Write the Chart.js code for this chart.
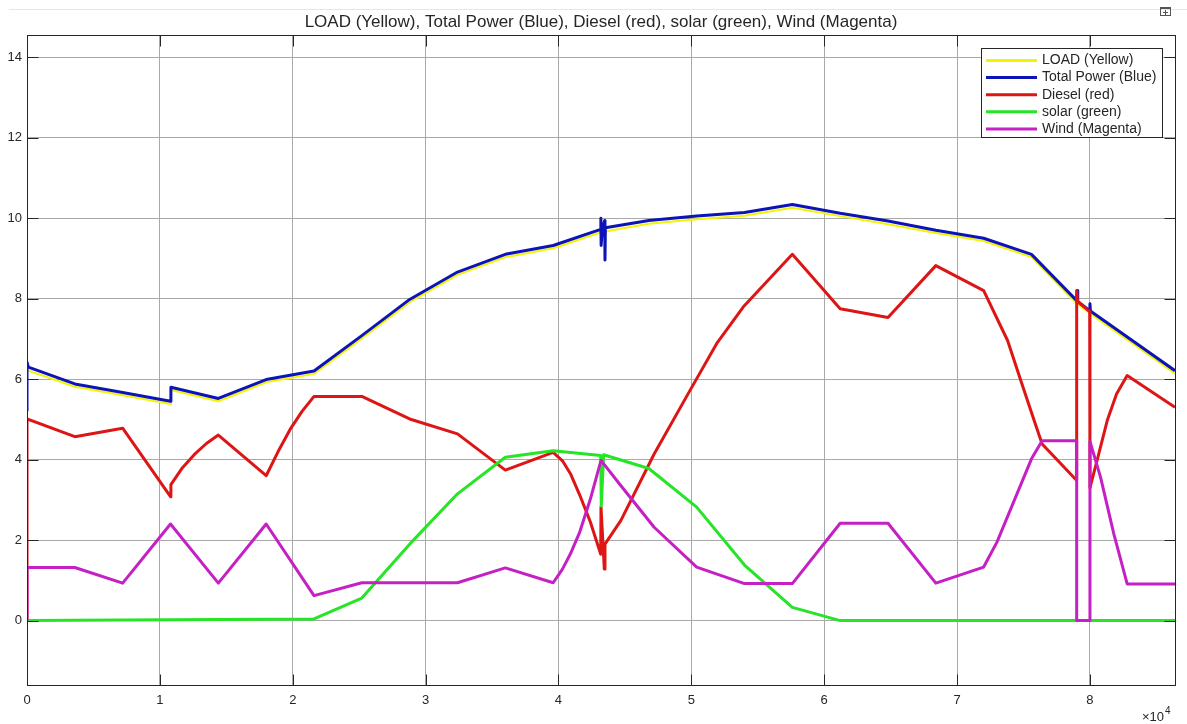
<!DOCTYPE html>
<html>
<head>
<meta charset="utf-8">
<title>Hybrid power system – 24 h simulation</title>
<script src="https://cdn.jsdelivr.net/npm/chart.js@4/dist/chart.umd.min.js"></script>
<style>
  html, body { margin: 0; padding: 0; background: #ffffff; overflow: hidden; }
  canvas { display: block; }
</style>
</head>
<body>
<canvas id="c" width="1187" height="724"></canvas>
<script>
// ---- Simulation traces: [time (s), power] ----
const load = [
  [0, 6.22], [3600, 5.81], [7200, 5.60], [10800, 5.38], [10830, 5.73], [14400, 5.45],
  [18000, 5.92], [21600, 6.13], [25200, 7.01], [28800, 7.91], [32400, 8.59], [36000, 9.03],
  [39600, 9.25], [43200, 9.65], [46800, 9.86], [50400, 9.97], [54000, 10.06], [57600, 10.26],
  [61200, 10.05], [64800, 9.85], [68400, 9.63], [72000, 9.43], [75600, 9.03], [79000, 7.88],
  [80000, 7.63], [86400, 6.14]
];

const totalPower = [
  [0, 5.20], [0, 6.42], [100, 6.30], [3600, 5.88], [7200, 5.67], [10800, 5.45], [10830, 5.80],
  [14400, 5.52], [18000, 5.99], [21600, 6.20], [25200, 7.08], [28800, 7.98], [32400, 8.66],
  [36000, 9.10], [39600, 9.32], [43180, 9.72], [43190, 10.00], [43210, 9.32], [43300, 9.74],
  [43480, 9.94], [43500, 8.96], [43530, 9.76], [46800, 9.94], [50400, 10.05], [54000, 10.14],
  [57600, 10.34], [61200, 10.12], [64800, 9.93], [68400, 9.70], [72000, 9.50], [75600, 9.10],
  [79000, 7.95], [79040, 8.20], [79080, 7.93], [79980, 7.70], [80000, 7.87], [80030, 7.69],
  [86400, 6.21]
];

const diesel = [
  [0, 0], [0, 5.01], [3600, 4.57], [7200, 4.78], [10800, 3.08], [10830, 3.38], [11700, 3.80],
  [12600, 4.13], [13500, 4.40], [14400, 4.61], [18000, 3.60], [18900, 4.20], [19800, 4.75],
  [20700, 5.20], [21600, 5.57], [25200, 5.57], [28800, 5.01], [32400, 4.64], [36000, 3.74],
  [39600, 4.18], [40300, 3.97], [40900, 3.65], [41600, 3.12], [42400, 2.45], [43180, 1.65],
  [43200, 2.82], [43450, 1.28], [43500, 1.90], [44700, 2.49], [47200, 4.14], [49900, 5.72],
  [51900, 6.88], [53900, 7.79], [57600, 9.10], [61200, 7.75], [64800, 7.53], [68400, 8.82],
  [72000, 8.20], [73800, 6.96], [74800, 5.96], [75800, 4.97], [76400, 4.39], [78950, 3.50],
  [79000, 8.20], [79060, 7.93], [79980, 7.68], [80000, 3.30], [80600, 4.06], [81300, 4.97],
  [82000, 5.63], [82800, 6.09], [86400, 5.30]
];

const solar = [
  [0, 0], [21600, 0.04], [25200, 0.56], [28800, 1.90], [32400, 3.15], [36000, 4.06],
  [39600, 4.22], [43180, 4.10], [43220, 2.85], [43400, 4.12], [44700, 3.99], [46800, 3.78],
  [50400, 2.82], [54000, 1.38], [57600, 0.33], [61200, 0], [86400, 0]
];

const wind = [
  [0, 0], [0, 1.32], [3600, 1.32], [7200, 0.93], [10800, 2.40], [14400, 0.93], [18000, 2.40],
  [21600, 0.62], [25200, 0.94], [32400, 0.94], [36000, 1.31], [39600, 0.94], [40300, 1.28],
  [40900, 1.66], [41600, 2.20], [42400, 3.02], [43200, 3.98], [44700, 3.35], [47200, 2.32],
  [50400, 1.33], [54000, 0.92], [57600, 0.92], [61200, 2.42], [64800, 2.42], [68400, 0.93],
  [72000, 1.33], [73000, 1.95], [75600, 4.02], [76400, 4.47], [79000, 4.47], [79000, 0],
  [80000, 0], [80000, 4.45], [80800, 3.56], [81800, 2.15], [82800, 0.91], [86400, 0.91]
];

const seriesNames  = ['LOAD (Yellow)', 'Total Power (Blue)', 'Diesel (red)', 'solar (green)', 'Wind (Magenta)'];
const seriesColors = ['#f4f400', '#0c14b8', '#de1515', '#26e426', '#c420c4'];
const seriesWidths = [2, 3, 3, 3, 3];

const xTicks = [0, 10000, 20000, 30000, 40000, 50000, 60000, 70000, 80000];
const yTicks = [0, 2, 4, 6, 8, 10, 12, 14];
const xRange = [0, 86400];
const yRange = [-1.6, 14.55];

const chartTitle = 'LOAD (Yellow), Total Power (Blue), Diesel (red), solar (green), Wind (Magenta)';

// ---- drawing ----
const FONT = '"Liberation Sans", Arial, Helvetica, sans-serif';
const INK = '#262626';
const series = [load, totalPower, diesel, solar, wind];

const toXY = pts => pts.map(([x, y]) => ({ x, y }));

// Axes box, inward tick marks, title, legend and exponent label
const framePlugin = {
  id: 'frame',
  afterDraw(chart) {
    const { ctx, chartArea: a, scales } = chart;
    const sx = scales.x, sy = scales.y;
    ctx.save();

    // thin rule at the top of the figure window
    ctx.strokeStyle = '#e6e6e6';
    ctx.lineWidth = 1;
    ctx.beginPath();
    ctx.moveTo(9, 9.5);
    ctx.lineTo(1187, 9.5);
    ctx.stroke();

    // small export icon
    ctx.strokeStyle = '#555';
    ctx.strokeRect(1160.5, 7.5, 10, 8);
    ctx.fillStyle = '#555';
    ctx.fillRect(1160, 7, 11, 2);
    ctx.beginPath();
    ctx.moveTo(1163, 12.5); ctx.lineTo(1168, 12.5);
    ctx.moveTo(1165.5, 10); ctx.lineTo(1165.5, 15);
    ctx.stroke();

    // axes box
    const L = Math.round(a.left) + 0.5, R = Math.round(a.right) + 0.5;
    const T = Math.round(a.top) + 0.5, B = Math.round(a.bottom) + 0.5;
    ctx.strokeStyle = INK;
    ctx.lineWidth = 1;
    ctx.strokeRect(L, T, R - L, B - T);

    // inward ticks on all four sides
    const tl = 11;
    ctx.beginPath();
    xTicks.forEach(v => {
      const p = Math.round(sx.getPixelForValue(v)) + 0.5;
      ctx.moveTo(p, B); ctx.lineTo(p, B - tl);
      ctx.moveTo(p, T); ctx.lineTo(p, T + tl);
    });
    yTicks.forEach(v => {
      const p = Math.round(sy.getPixelForValue(v)) + 0.5;
      ctx.moveTo(L, p); ctx.lineTo(L + tl, p);
      ctx.moveTo(R, p); ctx.lineTo(R - tl, p);
    });
    ctx.stroke();

    // title
    ctx.fillStyle = INK;
    ctx.font = '17px ' + FONT;
    ctx.textAlign = 'center';
    ctx.textBaseline = 'middle';
    ctx.fillText(chartTitle, (a.left + a.right) / 2, 22);

    // x exponent
    ctx.font = '13px ' + FONT;
    ctx.textAlign = 'left';
    ctx.fillText('\u00d710', 1142, 717);
    const w = ctx.measureText('\u00d710').width;
    ctx.font = '10px ' + FONT;
    ctx.fillText('4', 1142 + w + 1, 711);

    // legend
    const lx = 981.5, ly = 48.5, lw = 181, lh = 89;
    ctx.fillStyle = '#ffffff';
    ctx.fillRect(lx, ly, lw, lh);
    ctx.strokeStyle = INK;
    ctx.strokeRect(lx, ly, lw, lh);
    ctx.font = '14px ' + FONT;
    ctx.textAlign = 'left';
    ctx.textBaseline = 'middle';
    seriesNames.forEach((name, i) => {
      const yy = 60.5 + i * 17.1;
      ctx.strokeStyle = seriesColors[i];
      ctx.lineWidth = 3;
      ctx.beginPath();
      ctx.moveTo(986, yy);
      ctx.lineTo(1037, yy);
      ctx.stroke();
      ctx.fillStyle = INK;
      ctx.fillText(name, 1042, yy);
    });

    ctx.restore();
  }
};

new Chart(document.getElementById('c'), {
  type: 'line',
  data: {
    datasets: series.map((pts, i) => ({
      label: seriesNames[i],
      data: toXY(pts),
      borderColor: seriesColors[i],
      backgroundColor: seriesColors[i],
      borderWidth: seriesWidths[i],
      pointRadius: 0,
      tension: 0,
      fill: false,
      borderJoinStyle: 'round',
      order: series.length - i
    }))
  },
  options: {
    responsive: false,
    animation: false,
    devicePixelRatio: 1,
    layout: { padding: { top: 35, right: 12, left: 0, bottom: 0 } },
    plugins: {
      legend: { display: false },
      title: { display: false },
      tooltip: { enabled: false }
    },
    scales: {
      x: {
        type: 'linear',
        min: xRange[0],
        max: xRange[1],
        afterBuildTicks: s => { s.ticks = xTicks.map(v => ({ value: v })); },
        afterFit: s => { s.height = 39; },
        grid: { color: '#a9a9a9', lineWidth: 1, drawTicks: false },
        border: { display: false },
        ticks: {
          padding: 8,
          color: INK,
          font: { family: FONT, size: 13 },
          maxRotation: 0,
          autoSkip: false,
          callback: v => String(v / 10000)
        }
      },
      y: {
        type: 'linear',
        min: yRange[0],
        max: yRange[1],
        afterBuildTicks: s => { s.ticks = yTicks.map(v => ({ value: v })); },
        afterFit: s => { s.width = 27; },
        grid: { color: '#a9a9a9', lineWidth: 1, drawTicks: false },
        border: { display: false },
        ticks: {
          padding: 5,
          color: INK,
          font: { family: FONT, size: 13 },
          autoSkip: false,
          callback: v => String(v)
        }
      }
    }
  },
  plugins: [framePlugin]
});
</script>
</body>
</html>
